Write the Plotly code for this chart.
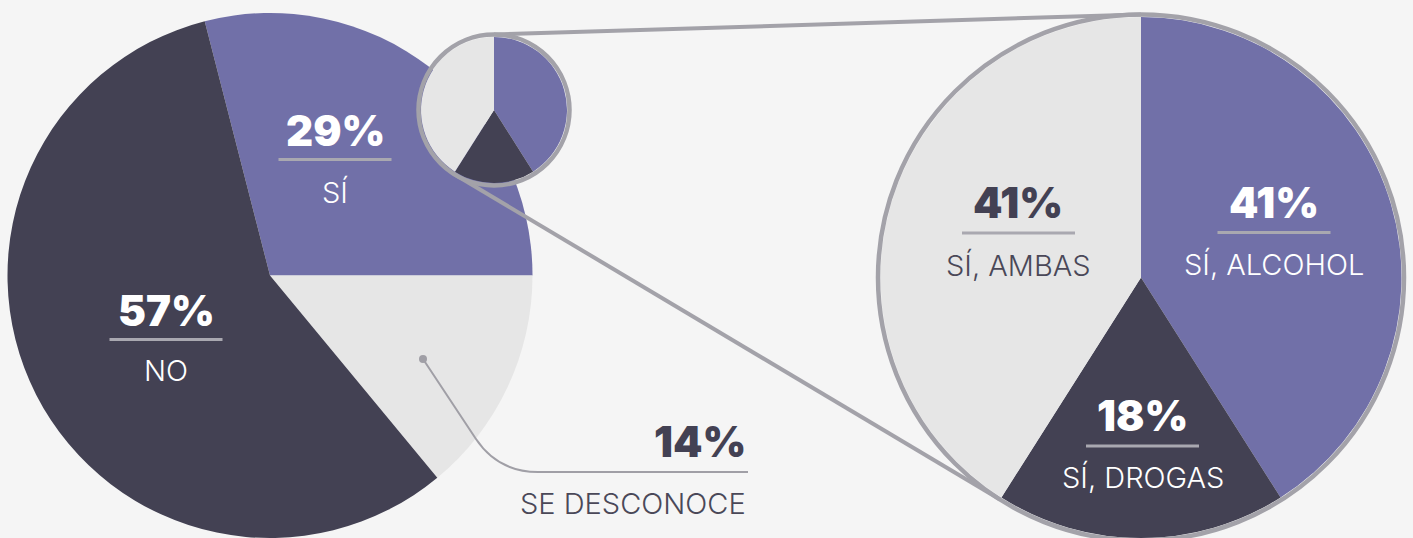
import math
import plotly.graph_objects as go

# ---------------- data ----------------
main_labels = ["SÍ", "SE DESCONOCE", "NO"]
main_values = [29, 14, 57]

sub_labels = ["SÍ, ALCOHOL", "SÍ, DROGAS", "SÍ, AMBAS"]
sub_values = [41, 18, 41]

# ---------------- style ----------------
W, H = 1413, 538
BG = "#f5f5f5"
PURPLE = "#7170a8"
DARK = "#434153"
LIGHT = "#e6e6e6"
RING = "#a3a2a9"
RULE = "#a9a8b0"
PCT_FONT = "Inter"
LBL_FONT = "Inter"
PCT_SIZE = 42
LBL_SIZE = 29


def px(x):
    return x / W


def py(y):
    return 1 - y / H


def dom(cx, cy, r):
    return dict(x=[px(cx - r), px(cx + r)], y=[max(0, py(cy + r)), min(1, py(cy - r))])


fig = go.Figure()

# main pie: first slice ends at 3 o'clock
rot_main = 90 - 360 * main_values[0] / sum(main_values)
main_cx, main_cy, main_r = 270, 275.5, 262.5
fig.add_trace(go.Pie(
    labels=main_labels, values=main_values, sort=False, direction="clockwise",
    rotation=rot_main, marker=dict(colors=[PURPLE, LIGHT, DARK], line=dict(width=0)),
    textinfo="none", hoverinfo="label+percent", showlegend=False,
    domain=dict(x=[px(main_cx - 265), px(main_cx + 265)], y=[0, py(13)]),
))

# small zoom pie
sm_cx, sm_cy, sm_r = 494, 110, 73
fig.add_trace(go.Pie(
    labels=sub_labels, values=sub_values, sort=False, direction="clockwise",
    rotation=0, marker=dict(colors=[PURPLE, DARK, LIGHT], line=dict(width=0)),
    textinfo="none", hoverinfo="label+percent", showlegend=False,
    domain=dom(sm_cx, sm_cy, sm_r),
))

# big detail pie
bg_cx, bg_cy, bg_r = 1141, 277.5, 260.5
fig.add_trace(go.Pie(
    labels=sub_labels, values=sub_values, sort=False, direction="clockwise",
    rotation=0, marker=dict(colors=[PURPLE, DARK, LIGHT], line=dict(width=0)),
    textinfo="none", hoverinfo="label+percent", showlegend=False,
    domain=dict(x=[px(bg_cx - bg_r), px(bg_cx + bg_r)], y=[0, py(bg_cy - bg_r)]),
))

shapes = []
annotations = []

# connector lines (top: 12 o'clock points; bottom: drogas/ambas boundary)
sm_R, bg_R = sm_r + 2.5, bg_r + 2.5
theta = 2 * math.pi * (sub_values[0] + sub_values[1]) / sum(sub_values)
shapes.append(dict(type="line", xref="paper", yref="paper",
                   x0=px(sm_cx), y0=py(sm_cy - sm_R), x1=px(bg_cx), y1=py(bg_cy - bg_R),
                   line=dict(color=RING, width=4)))
shapes.append(dict(type="line", xref="paper", yref="paper",
                   x0=px(sm_cx + sm_R * math.sin(theta)), y0=py(sm_cy - sm_R * math.cos(theta)),
                   x1=px(bg_cx + bg_R * math.sin(theta)), y1=py(bg_cy - bg_R * math.cos(theta)),
                   line=dict(color=RING, width=4)))
# rings
for cx, cy, R in [(sm_cx, sm_cy, sm_R), (bg_cx, bg_cy, bg_R)]:
    shapes.append(dict(type="circle", xref="paper", yref="paper",
                       x0=px(cx - R), x1=px(cx + R), y0=py(cy + R), y1=py(cy - R),
                       line=dict(color=RING, width=4.5), fillcolor="rgba(0,0,0,0)"))


def label(cx, y_pct, y_rule, y_lbl, pct, text, color_pct, color_lbl, x0=None, x1=None, anchor="center", xr=None):
    if anchor == "center":
        xa = cx
        rx0, rx1 = cx - 56.5, cx + 56.5
    else:
        xa = xr
        rx0, rx1 = x0, x1
    annotations.append(dict(xref="paper", yref="paper", x=px(xa), y=py(y_pct),
                            xanchor=anchor, yanchor="middle", showarrow=False,
                            text=f"{pct}%",
                            font=dict(family=PCT_FONT, size=PCT_SIZE, weight=900, color=color_pct)))
    annotations.append(dict(xref="paper", yref="paper", x=px(xa), y=py(y_lbl),
                            xanchor=anchor, yanchor="middle", showarrow=False,
                            text=text,
                            font=dict(family=LBL_FONT, size=LBL_SIZE, weight=300, color=color_lbl)))
    if rx0 is not None:
        shapes.append(dict(type="line", xref="paper", yref="paper",
                           x0=px(rx0), x1=px(rx1), y0=py(y_rule), y1=py(y_rule),
                           line=dict(color=RULE, width=3)))


label(335, 130, 159.5, 192, main_values[0], main_labels[0], "white", "white")
label(166, 310, 339.5, 370.5, main_values[2], main_labels[2], "white", "white")
label(1274, 203, 232.5, 264.5, sub_values[0], sub_labels[0], "white", "white")
label(1142.5, 415, 446, 477.5, sub_values[1], sub_labels[1], "white", "white")
label(1018.5, 203, 233, 265.5, sub_values[2], sub_labels[2], DARK, "#4a4858")

# callout for SE DESCONOCE
label(None, 441, None, 503, main_values[1], main_labels[1], DARK, "#4a4858",
      anchor="right", xr=748)
d = 40
cxp, cyp = 498, 472
path = (f"M {px(423)},{py(359)} L {px(cxp - d * 0.555)},{py(cyp - d * 0.832)} "
        f"Q {px(cxp)},{py(cyp)} {px(cxp + d)},{py(cyp)} L {px(748)},{py(cyp)}")
shapes.append(dict(type="path", xref="paper", yref="paper", path=path,
                   line=dict(color="#a09fa6", width=2)))
shapes.append(dict(type="circle", xref="paper", yref="paper",
                   x0=px(419), x1=px(427), y0=py(363), y1=py(355),
                   line=dict(width=0), fillcolor="#a09fa6"))

fig.update_layout(
    width=W, height=H, margin=dict(l=0, r=0, t=0, b=0),
    paper_bgcolor=BG, plot_bgcolor=BG,
    shapes=shapes, annotations=annotations, showlegend=False,
)

fig.write_html(
    "out.html",
    config={"displayModeBar": False},
    post_script="document.body.style.margin='0';document.body.style.background='#f5f5f5';",
)
